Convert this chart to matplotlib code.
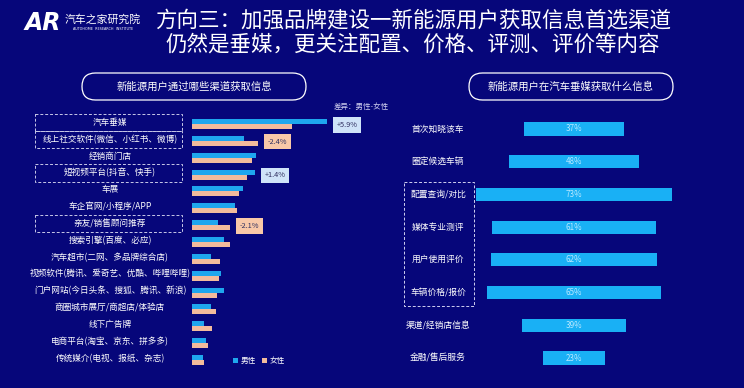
import matplotlib
matplotlib.use("Agg")
import matplotlib.pyplot as plt
from matplotlib.patches import FancyBboxPatch, Rectangle
import matplotlib.transforms as mtrans

plt.rcParams['font.family'] = ['Noto Sans CJK SC', 'DejaVu Sans']

# ---------------- data ----------------
channels = ["汽车垂媒", "线上社交软件(微信、小红书、微博)", "经销商门店", "短视频平台(抖音、快手)",
            "车展", "车企官网/小程序/APP", "亲友/销售顾问推荐", "搜索引擎(百度、必应)",
            "汽车超市(二网、多品牌综合店)", "视频软件(腾讯、爱奇艺、优酷、哔哩哔哩)",
            "门户网站(今日头条、搜狐、腾讯、新浪)", "商圈城市展厅/商超店/体验店", "线下广告牌",
            "电商平台(淘宝、京东、拼多多)", "传统媒介(电视、报纸、杂志)"]
male = [22.9, 8.8, 10.8, 10.7, 8.6, 7.3, 4.4, 5.4, 3.2, 4.9, 5.4, 3.2, 2.0, 2.4, 1.9]
female = [17.0, 11.2, 10.1, 9.3, 8.0, 7.6, 6.5, 6.4, 4.8, 4.6, 4.2, 4.1, 3.4, 2.7, 2.0]
diff_rows = [0, 1, 3, 6]
diff_labels = ["+5.9%", "-2.4%", "+1.4%", "-2.1%"]
boxed_left = [0, 1, 3, 6]

info_items = ["首次知晓该车", "圈定候选车辆", "配置查询/对比", "媒体专业测评",
              "用户使用评价", "车辆价格/报价", "渠道/经销店信息", "金融/售后服务"]
info_values = [37, 48, 73, 61, 62, 65, 39, 23]

title1 = "方向三：加强品牌建设一新能源用户获取信息首选渠道"
title2 = "仍然是垂媒，更关注配置、价格、评测、评价等内容"
header_left = "新能源用户通过哪些渠道获取信息"
header_right = "新能源用户在汽车垂媒获取什么信息"

# ---------------- style ----------------
BG = '#06067a'
BLUE = '#1ea6ee'
PEACH = '#f2bb9c'
RBLUE = '#19b0f5'
W, H = 744, 388

fig = plt.figure(figsize=(W / 100, H / 100), dpi=100)
fig.patch.set_facecolor(BG)


def px_rect(x0, y0, x1, y1):
    return [x0 / W, 1 - y1 / H, (x1 - x0) / W, (y1 - y0) / H]


def fx(x):
    return x / W


def fy(y):
    return 1 - y / H


# overlay axes in pixel coordinates for decorations
ov = fig.add_axes([0, 0, 1, 1])
ov.set_xlim(0, W)
ov.set_ylim(H, 0)
ov.axis('off')
ov.set_facecolor('none')

# ---------------- title / logo ----------------
ov.text(43, 23, "AR", color='white', fontsize=17, fontweight='heavy',
        ha='center', va='center', family=['DejaVu Sans'], style='italic')
ov.text(103, 19, "汽车之家研究院", color='white', fontsize=7.8,
        ha='center', va='center')
ov.text(103, 29, "AUTOHOME  RESEARCH  INSTITUTE", color='white', fontsize=2.4,
        ha='center', va='center', family=['DejaVu Sans'])
ov.text(413, 20, title1, color='white', fontsize=15.5, ha='center', va='center',
        fontweight='medium')
ov.text(413, 45, title2, color='white', fontsize=15.5, ha='center', va='center',
        fontweight='medium')

# headers (pills)
for (x0, x1, txt) in [(82, 306, header_left), (469, 673, header_right)]:
    pill = FancyBboxPatch((x0, 73), x1 - x0, 27,
                          boxstyle="round,pad=0,rounding_size=13.5",
                          facecolor='none', edgecolor='white', linewidth=0.9)
    ov.add_patch(pill)
    ov.text((x0 + x1) / 2, 86.5, txt, color='white', fontsize=7.5,
            ha='center', va='center')

# ---------------- left chart ----------------
scale = 5.9  # px per %
axL = fig.add_axes(px_rect(192, 115.6, 372, 368.4))
axL.set_facecolor('none')
axL.set_xlim(0, 180 / scale)
n = len(channels)
axL.set_ylim(n - 0.5, -0.5)
ys = list(range(n))
bh = 0.3
axL.barh([y - bh / 2 for y in ys], male, height=bh, color=BLUE, label='男性')
axL.barh([y + bh / 2 for y in ys], female, height=bh, color=PEACH, label='女性')
axL.axis('off')

tL = mtrans.blended_transform_factory(fig.transFigure, axL.transData)
for i, lab in enumerate(channels):
    axL.text(fx(110), i - 0.1, lab, transform=tL, color='white', fontsize=6.2,
             ha='center', va='center')
for i in boxed_left:
    r = Rectangle((fx(35), i - 0.6), fx(182 - 35), 1.02, transform=tL,
                  facecolor='none', edgecolor='#c8c8e8', linewidth=0.7,
                  linestyle=(0, (3, 2)), clip_on=False)
    axL.add_patch(r)

for i, lab in zip(diff_rows, diff_labels):
    pos = lab.startswith('+')
    fc = '#cfe3f8' if pos else '#f8c8a8'
    xv = max(male[i], female[i]) + 1.6
    axL.text(xv, i + 0.05, lab, color='#303060', fontsize=5.3, ha='left', va='center',
             bbox=dict(boxstyle='square,pad=0.5', facecolor=fc, edgecolor='none'),
             clip_on=False)

ov.text(334, 107, "差异：男性-女性", color='#d0d0f0', fontsize=5.4,
        ha='left', va='center')

# legend
leg = axL.legend(loc='center left', bbox_to_anchor=(fx(226), fy(361)),
                 bbox_transform=fig.transFigure, ncol=2, frameon=False,
                 handlelength=0.7, handleheight=0.7, handletextpad=0.3,
                 columnspacing=0.8, fontsize=5.5)
for t in leg.get_texts():
    t.set_color('white')

# ---------------- right chart ----------------
rscale = 2.69
axR = fig.add_axes(px_rect(440, 112.6, 708, 374.4))
axR.set_facecolor('none')
half = 134 / rscale
axR.set_xlim(-half, half)
m = len(info_items)
axR.set_ylim(m - 0.5, -0.5)
axR.barh(range(m), info_values, left=[-v / 2 for v in info_values], height=0.4,
         color=RBLUE)
axR.axis('off')
for i, v in enumerate(info_values):
    axR.text(0, i, f"{v}%", color='#b8e8ff', fontsize=5.8, ha='center', va='center')

tR = mtrans.blended_transform_factory(fig.transFigure, axR.transData)
for i, lab in enumerate(info_items):
    axR.text(fx(438), i, lab, transform=tR, color='white', fontsize=6.3,
             ha='center', va='center', fontweight='medium')
rb = Rectangle((fx(404), 1.62), fx(474 - 404), 5.42 - 1.62, transform=tR,
               facecolor='none', edgecolor='#d0d0f0', linewidth=0.7,
               linestyle=(0, (3, 2)), clip_on=False)
axR.add_patch(rb)

fig.savefig("out.png", dpi=100, facecolor=BG)
